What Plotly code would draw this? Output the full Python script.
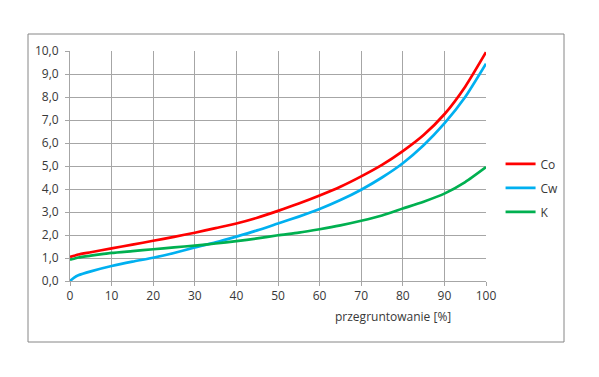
import plotly.graph_objects as go

x_vals = [0, 1, 2, 5, 10, 15, 20, 25, 30, 35, 40, 45, 50, 55, 60, 65, 70, 75, 80, 85, 90, 95, 100]
co_vals = [1.05, 1.1, 1.15, 1.25, 1.42, 1.58, 1.75, 1.92, 2.1, 2.3, 2.5, 2.75, 3.05, 3.37, 3.72, 4.1, 4.55, 5.05, 5.65, 6.35, 7.25, 8.45, 9.95]
cw_vals = [0.0, 0.15, 0.25, 0.42, 0.65, 0.84, 1.01, 1.22, 1.46, 1.68, 1.93, 2.2, 2.5, 2.8, 3.13, 3.52, 3.97, 4.5, 5.12, 5.9, 6.85, 8.0, 9.45]
k_vals = [0.93, 0.97, 1.02, 1.1, 1.22, 1.3, 1.38, 1.46, 1.54, 1.63, 1.73, 1.85, 1.99, 2.1, 2.25, 2.42, 2.62, 2.85, 3.15, 3.45, 3.8, 4.3, 4.95]

series_names = ["Co", "Cw", "K"]
series_colors = ["#ff0000", "#00b0f0", "#00b050"]
x_ticks = list(range(0, 101, 10))
y_ticks = [i * 1.0 for i in range(0, 11)]
x_title = "przegruntowanie [%]"

fig = go.Figure()
for name, vals, col in zip(series_names, [co_vals, cw_vals, k_vals], series_colors):
    fig.add_trace(go.Scatter(x=x_vals, y=vals, mode="lines", name=name,
                             legendgroup=name,
                             line=dict(color=col, width=2.7, shape="spline", smoothing=0.6)))

font_main = dict(family="Open Sans, Liberation Sans, sans-serif", size=12, color="#383838")

# page body has an 8px default margin, so the figure is drawn 8px smaller / offset
fig.update_layout(
    width=591, height=369,
    margin=dict(l=62, r=113, t=43, b=96),
    paper_bgcolor="white", plot_bgcolor="white",
    separators=", ",
    font=font_main,
    showlegend=True,
    legend=dict(x=1.035, y=0.572, xanchor="left", yanchor="top",
                bgcolor="rgba(0,0,0,0)", tracegroupgap=5,
                font=font_main, itemwidth=30),
    xaxis=dict(range=[0, 100], tickvals=x_ticks, showgrid=True, gridcolor="#a6a6a6", gridwidth=1,
               showline=True, linecolor="#a6a6a6", linewidth=1, ticks="outside", ticklen=4,
               tickcolor="#a6a6a6", zeroline=False, tickfont=font_main),
    yaxis=dict(range=[0, 10], tickvals=y_ticks, tickformat=".1f", showgrid=True, gridcolor="#a6a6a6",
               gridwidth=1, showline=True, linecolor="#a6a6a6", linewidth=1, ticks="outside",
               ticklen=4, tickcolor="#a6a6a6", zeroline=False, tickfont=font_main,
               ticklabelstandoff=4),
    annotations=[dict(text=x_title, xref="paper", yref="paper", x=(393 - 70) / 416, y=(281 - 316) / 230,
                      xanchor="center", yanchor="middle", showarrow=False, font=font_main)],
    shapes=[dict(type="rect", xref="paper", yref="paper",
                 x0=(28 - 70) / 416, x1=(564 - 70) / 416,
                 y0=(281 - 342) / 230, y1=(281 - 34) / 230,
                 line=dict(color="#868686", width=1), fillcolor="rgba(0,0,0,0)", layer="below")],
)

fig.write_html("out.html")
